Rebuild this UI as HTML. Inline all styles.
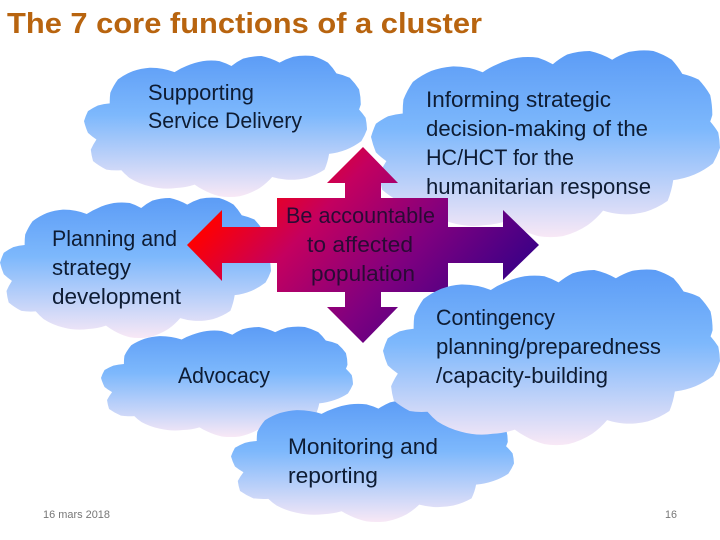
<!DOCTYPE html>
<html>
<head>
<meta charset="utf-8">
<title>The 7 core functions of a cluster</title>
<style>
html,body{margin:0;padding:0;background:#fff;width:720px;height:540px;overflow:hidden}
svg{display:block}
text{font-family:"Liberation Sans",sans-serif}
.t{font-size:22px;fill:#0e1c33}
.c{font-size:22px;fill:#2a0a35}
.f{font-size:11px;fill:#777}
</style>
</head>
<body>
<svg width="720" height="540" viewBox="0 0 720 540" xmlns="http://www.w3.org/2000/svg">
<defs>
<linearGradient id="g" x1="0" y1="0" x2="0" y2="1">
<stop offset="0" stop-color="#5c9cf6"/>
<stop offset="0.42" stop-color="#7db8fc"/>
<stop offset="1" stop-color="#f8e8f6"/>
</linearGradient>
<linearGradient id="a" gradientUnits="userSpaceOnUse" x1="187" y1="245" x2="382" y2="420">
<stop offset="0" stop-color="#ff0000"/>
<stop offset="0.3" stop-color="#c4005f"/>
<stop offset="0.65" stop-color="#80007f"/>
<stop offset="1" stop-color="#3f0086"/>
</linearGradient>
<path id="cloud" fill="url(#g)" d="M0 46.200
A23.600 47.400 0 0 1 1.400 39.100 A23.600 47.400 0 0 1 4.900 35.100 A23.600 47.400 0 0 1 9.100 33.600
A23.600 47.400 0 0 1 9.300 26.100 A23.600 47.400 0 0 1 12 16.600 A23.600 47.400 0 0 1 17.300 10.700 A23.600 47.400 0 0 1 23.200 8.300 A23.600 47.400 0 0 1 32 11.400
A23.600 47.400 0 0 1 36.200 7.100 A23.600 47.400 0 0 1 42 3.600 A23.600 47.400 0 0 1 47.900 3.600 A23.600 47.400 0 0 1 52.100 7.100
A23.600 47.400 0 0 1 56.200 1.900 A23.600 47.400 0 0 1 62.700 0 A23.600 47.400 0 0 1 69.100 4.700
A23.600 47.400 0 0 1 73.900 0.500 A23.600 47.400 0 0 1 80.900 0 A23.600 47.400 0 0 1 86.200 4.700 A23.600 47.400 0 0 1 89.200 12.300
A23.600 47.400 0 0 1 93.900 15.400 A23.600 47.400 0 0 1 97.200 23.700 A23.600 47.400 0 0 1 97.800 34.400 A23.600 47.400 0 0 1 97.200 37.900
A23.600 47.400 0 0 1 99.500 43.800 A23.600 47.400 0 0 1 100 52.100 A23.600 47.400 0 0 1 98 60.400 A23.600 47.400 0 0 1 92.700 66.400 A23.600 47.400 0 0 1 86.600 69.400
A23.600 47.400 0 0 1 85 80.600 A23.600 47.400 0 0 1 78.600 86.500 A23.600 47.400 0 0 1 71.500 87.700 A23.600 47.400 0 0 1 66.500 85.800
A23.600 47.400 0 0 1 62.100 93.600 A23.600 47.400 0 0 1 55 99.500 A23.600 47.400 0 0 1 47.900 99.500 A23.600 47.400 0 0 1 42 94.800 A23.600 47.400 0 0 1 39.100 91.200
A23.600 47.400 0 0 1 32.600 93.600 A23.600 47.400 0 0 1 23.200 92.400 A23.600 47.400 0 0 1 16.100 86.500 A23.600 47.400 0 0 1 13.200 81
A23.600 47.400 0 0 1 7.900 80.600 A23.600 47.400 0 0 1 3.200 74.600 A23.600 47.400 0 0 1 2.400 66.400 A23.600 47.400 0 0 1 4.400 59.200
A23.600 47.400 0 0 1 1.400 54.500 A23.600 47.400 0 0 1 0 46.200Z"/>
</defs>

<text x="7" y="33" font-size="29" font-weight="bold" fill="#b8640f" textLength="475" lengthAdjust="spacingAndGlyphs">The 7 core functions of a cluster</text>

<use href="#cloud" transform="translate(84 56) scale(2.83 1.41)"/>
<use href="#cloud" transform="translate(371 51) scale(3.49 1.86)"/>
<use href="#cloud" transform="translate(0 198) scale(2.71 1.4)"/>
<use href="#cloud" transform="translate(101 327) scale(2.52 1.1)"/>
<use href="#cloud" transform="translate(231 400) scale(2.83 1.22)"/>

<path fill="url(#a)" d="M363 147 L398 183 L381 183 L381 198 L448 198 L448 227 L503 227 L503 210 L539 245 L503 280 L503 263 L448 263 L448 292 L381 292 L381 307 L398 307 L363 343 L327 307 L345 307 L345 292 L277 292 L277 263 L222 263 L222 281 L187 245 L222 210 L222 227 L277 227 L277 198 L345 198 L345 183 L327 183 Z"/>

<use href="#cloud" transform="translate(383 270) scale(3.37 1.75)"/>

<text class="t" x="148" y="100" textLength="106" lengthAdjust="spacingAndGlyphs">Supporting</text>
<text class="t" x="148" y="128" textLength="154" lengthAdjust="spacingAndGlyphs">Service Delivery</text>

<text class="t" x="426" y="107" textLength="185" lengthAdjust="spacingAndGlyphs">Informing strategic</text>
<text class="t" x="426" y="136" textLength="222" lengthAdjust="spacingAndGlyphs">decision-making of the</text>
<text class="t" x="426" y="165" textLength="148" lengthAdjust="spacingAndGlyphs">HC/HCT for the</text>
<text class="t" x="426" y="194" textLength="225" lengthAdjust="spacingAndGlyphs">humanitarian response</text>

<text class="t" x="52" y="246" textLength="125" lengthAdjust="spacingAndGlyphs">Planning and</text>
<text class="t" x="52" y="275" textLength="79" lengthAdjust="spacingAndGlyphs">strategy</text>
<text class="t" x="52" y="304" textLength="129" lengthAdjust="spacingAndGlyphs">development</text>

<text class="c" x="286" y="223" textLength="149" lengthAdjust="spacingAndGlyphs">Be accountable</text>
<text class="c" x="307" y="252" textLength="106" lengthAdjust="spacingAndGlyphs">to affected</text>
<text class="c" x="311" y="281" textLength="104" lengthAdjust="spacingAndGlyphs">population</text>

<text class="t" x="436" y="325" textLength="119" lengthAdjust="spacingAndGlyphs">Contingency</text>
<text class="t" x="436" y="354" textLength="225" lengthAdjust="spacingAndGlyphs">planning/preparedness</text>
<text class="t" x="436" y="383" textLength="172" lengthAdjust="spacingAndGlyphs">/capacity-building</text>

<text class="t" x="178" y="383" textLength="92" lengthAdjust="spacingAndGlyphs">Advocacy</text>

<text class="t" x="288" y="454" textLength="150" lengthAdjust="spacingAndGlyphs">Monitoring and</text>
<text class="t" x="288" y="483" textLength="90" lengthAdjust="spacingAndGlyphs">reporting</text>

<text class="f" x="43" y="518" textLength="67" lengthAdjust="spacingAndGlyphs">16 mars 2018</text>
<text class="f" x="665" y="518" textLength="12" lengthAdjust="spacingAndGlyphs">16</text>
</svg>
</body>
</html>
